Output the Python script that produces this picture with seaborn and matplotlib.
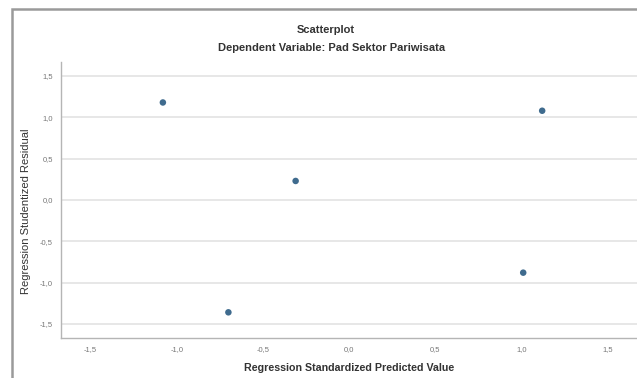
import pandas as pd
import matplotlib.pyplot as plt
import seaborn as sns
from matplotlib.patches import Rectangle
from matplotlib.ticker import FuncFormatter

# data
predicted = [-1.08, -0.31, -0.70, 1.12, 1.01]
residual = [1.18, 0.23, -1.36, 1.08, -0.88]
ticks = [-1.5, -1.0, -0.5, 0.0, 0.5, 1.0, 1.5]

df = pd.DataFrame({'pred': predicted, 'resid': residual})

sns.set_style('white')
plt.rcParams['font.family'] = ['Liberation Sans', 'DejaVu Sans']

fig = plt.figure(figsize=(6.37, 3.78), dpi=100)
ax = fig.add_axes([0.096, 0.106, 0.904, 0.73])

sns.scatterplot(data=df, x='pred', y='resid', ax=ax, color='#3f6b8e',
                s=22, edgecolor='none', zorder=3)

ax.set_xlim(-1.67, 1.67)
ax.set_ylim(-1.67, 1.67)
ax.set_xticks(ticks)
ax.set_yticks(ticks)
fmt = FuncFormatter(lambda v, p: f'{v:.1f}'.replace('.', ','))
ax.xaxis.set_major_formatter(fmt)
ax.yaxis.set_major_formatter(fmt)
ax.tick_params(axis='both', labelsize=5.5, colors='#777777', length=0, pad=6)

ax.yaxis.grid(True, color='#e3e3e3', linewidth=1.2)
ax.xaxis.grid(False)
for side in ['top', 'right']:
    ax.spines[side].set_visible(False)
for side in ['left', 'bottom']:
    ax.spines[side].set_color('#b5b5b5')
    ax.spines[side].set_linewidth(1.0)

ax.set_xlabel('Regression Standardized Predicted Value', fontsize=7.7,
              fontweight='bold', color='#333333', labelpad=7)
ax.set_ylabel('Regression Studentized Residual', fontsize=8,
              color='#333333')
ax.yaxis.set_label_coords(-0.053, 0.46)

fig.text(0.512, 0.92, 'Scatterplot', ha='center', va='center',
         fontsize=8, fontweight='bold', color='#333333')
fig.text(0.52, 0.873, 'Dependent Variable: Pad Sektor Pariwisata',
         ha='center', va='center', fontsize=8, fontweight='bold',
         color='#333333')

# outer chart frame
fig.patches.append(Rectangle((12 / 637, -0.05), 1.0, 1.05 - 9 / 378,
                             transform=fig.transFigure, fill=False,
                             edgecolor='#9a9a9a', linewidth=1.8))

fig.savefig('out.png', dpi=100)
